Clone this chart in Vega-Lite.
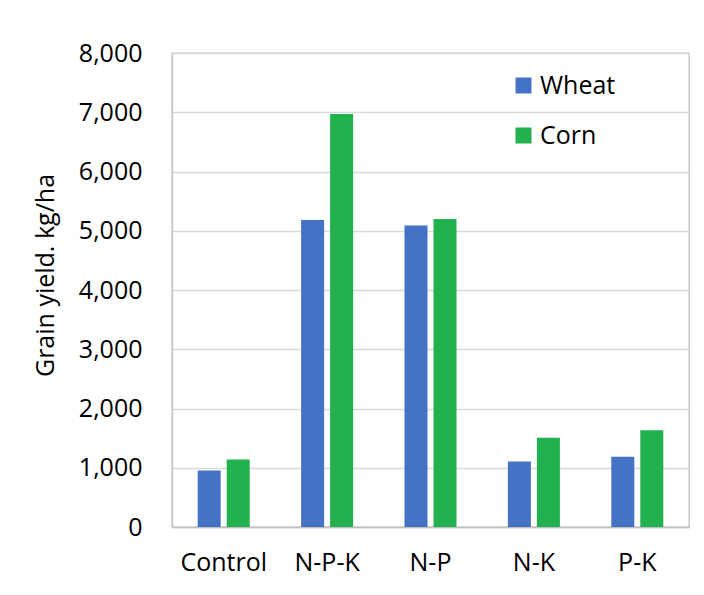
{
  "$schema": "https://vega.github.io/schema/vega-lite/v6.json",
  "width": 517,
  "height": 474,
  "autosize": {"type": "none"},
  "padding": {"left": 172, "top": 53, "right": 15, "bottom": 68},
  "background": "white",
  "config": {
    "font": "Open Sans",
    "view": {"stroke": "#c0c0c0", "strokeWidth": 1.3}
  },
  "data": {
    "values": [
      {"treatment": "Control", "crop": "Wheat", "yield": 955},
      {"treatment": "Control", "crop": "Corn", "yield": 1140},
      {"treatment": "N-P-K", "crop": "Wheat", "yield": 5180},
      {"treatment": "N-P-K", "crop": "Corn", "yield": 6970},
      {"treatment": "N-P", "crop": "Wheat", "yield": 5090},
      {"treatment": "N-P", "crop": "Corn", "yield": 5200},
      {"treatment": "N-K", "crop": "Wheat", "yield": 1105},
      {"treatment": "N-K", "crop": "Corn", "yield": 1505},
      {"treatment": "P-K", "crop": "Wheat", "yield": 1185},
      {"treatment": "P-K", "crop": "Corn", "yield": 1635}
    ]
  },
  "mark": {"type": "bar"},
  "encoding": {
    "x": {
      "field": "treatment",
      "type": "nominal",
      "sort": ["Control", "N-P-K", "N-P", "N-K", "P-K"],
      "scale": {"paddingInner": 0, "paddingOuter": 0},
      "axis": {
        "title": null,
        "labelAngle": 0,
        "labelFontSize": 25,
        "labelColor": "#000000",
        "labelPadding": 23,
        "ticks": false,
        "tickSize": 0,
        "domainColor": "#c0c0c0",
        "domainWidth": 1.3
      }
    },
    "xOffset": {
      "field": "crop",
      "type": "nominal",
      "sort": ["Wheat", "Corn"],
      "scale": {"paddingInner": 0.207, "paddingOuter": 0.886}
    },
    "y": {
      "field": "yield",
      "type": "quantitative",
      "scale": {"domain": [0, 8000], "nice": false},
      "axis": {
        "title": "Grain yield. kg/ha",
        "titleFontSize": 25,
        "titleFontWeight": "normal",
        "titleColor": "#000000",
        "titlePadding": 20,
        "titleY": 222,
        "values": [0, 1000, 2000, 3000, 4000, 5000, 6000, 7000, 8000],
        "format": ",d",
        "labelFontSize": 25,
        "labelColor": "#000000",
        "labelPadding": 30,
        "ticks": false,
        "tickSize": 0,
        "domainColor": "#c0c0c0",
        "domainWidth": 1.3,
        "gridColor": "#d9d9d9",
        "gridWidth": 1.3
      }
    },
    "color": {
      "field": "crop",
      "type": "nominal",
      "sort": ["Wheat", "Corn"],
      "scale": {"domain": ["Wheat", "Corn"], "range": ["#4472C4", "#21B14F"]},
      "legend": {
        "title": null,
        "orient": "none",
        "legendX": 339,
        "legendY": 20,
        "symbolType": "square",
        "symbolSize": 256,
        "symbolStrokeWidth": 0,
        "labelFontSize": 25,
        "labelColor": "#000000",
        "labelOffset": 4,
        "rowPadding": 24
      }
    }
  }
}
